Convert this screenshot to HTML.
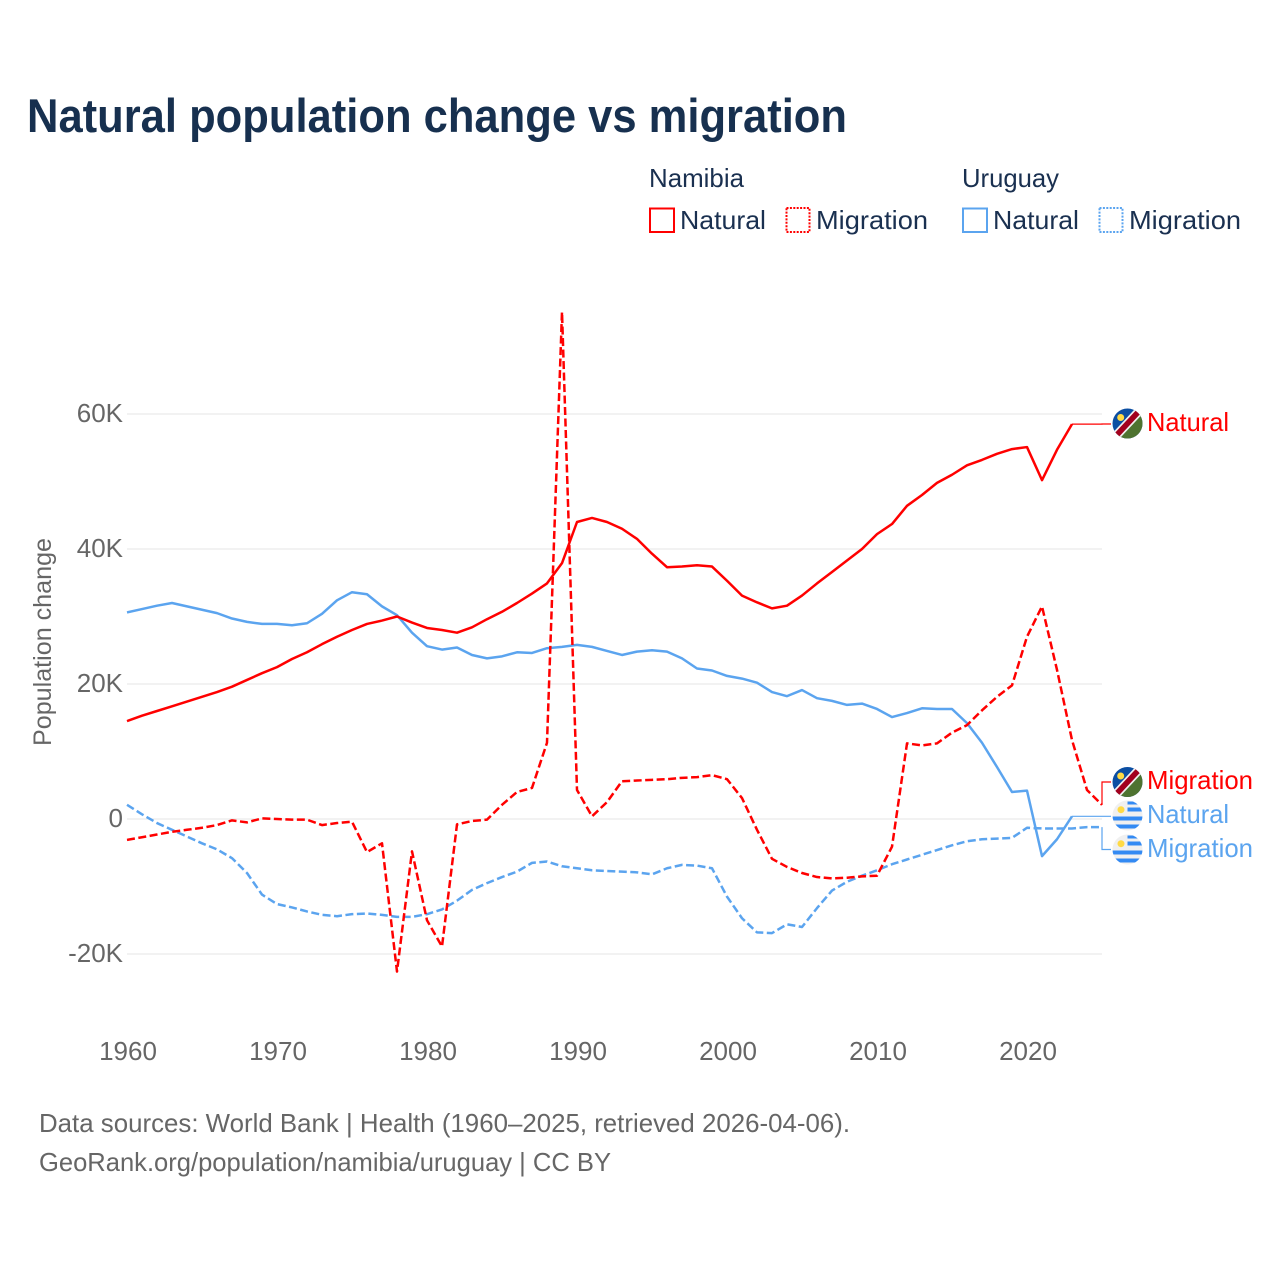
<!DOCTYPE html>
<html lang="en">
<head>
<meta charset="utf-8">
<title>Natural population change vs migration</title>
<style>
  html, body { margin: 0; padding: 0; background: #ffffff; }
  svg { display: block; font-family: "Liberation Sans", sans-serif; }
  .legend-text { font-size: 26px; fill: #1a3050; }
  .foot { font-size: 26px; fill: #666666; }
  .tick { font-size: 26px; fill: #666666; }
  .series-label { font-size: 26px; }
</style>
</head>
<body>
<svg id="chart" xmlns="http://www.w3.org/2000/svg" width="1280" height="1280" viewBox="0 0 1280 1280">
  <defs>
    <clipPath id="clip-flag-1"><circle cx="1127.5" cy="423.5" r="15"/></clipPath>
    <clipPath id="clip-flag-2"><circle cx="1127.5" cy="782" r="15"/></clipPath>
    <clipPath id="clip-flag-3"><circle cx="1127.5" cy="815.5" r="15"/></clipPath>
    <clipPath id="clip-flag-4"><circle cx="1127.5" cy="849.5" r="15"/></clipPath>
  </defs>
  <rect x="0" y="0" width="1280" height="1280" fill="#ffffff"/>

  <text x="27" y="132" font-size="47" font-weight="700" fill="#17304f" textLength="820" lengthAdjust="spacingAndGlyphs">Natural population change vs migration</text>

  <g>
    <text class="legend-text" x="649" y="187" textLength="95" lengthAdjust="spacingAndGlyphs">Namibia</text>
    <text class="legend-text" x="962" y="187" textLength="97" lengthAdjust="spacingAndGlyphs">Uruguay</text>

    <rect x="650" y="208.5" width="24" height="23.5" fill="none" stroke="#ff0000" stroke-width="2"/>
    <text class="legend-text" x="680" y="229" textLength="86" lengthAdjust="spacingAndGlyphs">Natural</text>
    <rect x="786.5" y="208" width="23" height="24" fill="none" stroke="#ff0000" stroke-width="2" stroke-dasharray="2 1.4"/>
    <text class="legend-text" x="816" y="229" textLength="112" lengthAdjust="spacingAndGlyphs">Migration</text>

    <rect x="963" y="208.5" width="24" height="23.5" fill="none" stroke="#5ba4ef" stroke-width="2"/>
    <text class="legend-text" x="993" y="229" textLength="86" lengthAdjust="spacingAndGlyphs">Natural</text>
    <rect x="1099.5" y="208" width="23" height="24" fill="none" stroke="#5ba4ef" stroke-width="2" stroke-dasharray="2 1.4"/>
    <text class="legend-text" x="1129" y="229" textLength="112" lengthAdjust="spacingAndGlyphs">Migration</text>
  </g>

  <text transform="translate(51 642) rotate(-90)" text-anchor="middle" font-size="25" fill="#666666" textLength="208" lengthAdjust="spacingAndGlyphs">Population change</text>

  <g id="grid"></g>
  <g id="y-ticks"></g>
  <g id="x-ticks"></g>
  <g id="series"></g>

  <g clip-path="url(#clip-flag-1)">
    <g transform="translate(1127.5 423.5)">
      <rect x="-16" y="-16" width="32" height="32" fill="#0b4ea2"/>
      <polygon points="-18,20 20,-20 20,20" fill="#4e7330"/>
      <g transform="rotate(-47)">
        <rect x="-24" y="-4.5" width="48" height="9" fill="#f0f0f0"/>
        <rect x="-24" y="-2.8" width="48" height="5.6" fill="#a2001d"/>
      </g>
      <circle cx="-6.8" cy="-6" r="3.5" fill="#ffda44"/>
    </g>
  </g>
  <g clip-path="url(#clip-flag-2)">
    <g transform="translate(1127.5 782)">
      <rect x="-16" y="-16" width="32" height="32" fill="#0b4ea2"/>
      <polygon points="-18,20 20,-20 20,20" fill="#4e7330"/>
      <g transform="rotate(-47)">
        <rect x="-24" y="-4.5" width="48" height="9" fill="#f0f0f0"/>
        <rect x="-24" y="-2.8" width="48" height="5.6" fill="#a2001d"/>
      </g>
      <circle cx="-6.8" cy="-6" r="3.5" fill="#ffda44"/>
    </g>
  </g>
  <g clip-path="url(#clip-flag-3)">
    <g transform="translate(1127.5 815.5)">
      <rect x="-16" y="-16" width="32" height="32" fill="#f0f0f0"/>
      <rect x="0" y="-14" width="16" height="3" fill="#338af3"/>
      <rect x="0" y="-8" width="16" height="4" fill="#338af3"/>
      <rect x="-16" y="1" width="32" height="4" fill="#338af3"/>
      <rect x="-16" y="9" width="32" height="4" fill="#338af3"/>
      <circle cx="-6.5" cy="-5.8" r="3.5" fill="#ffda44"/>
    </g>
  </g>
  <g clip-path="url(#clip-flag-4)">
    <g transform="translate(1127.5 849.5)">
      <rect x="-16" y="-16" width="32" height="32" fill="#f0f0f0"/>
      <rect x="0" y="-14" width="16" height="3" fill="#338af3"/>
      <rect x="0" y="-8" width="16" height="4" fill="#338af3"/>
      <rect x="-16" y="1" width="32" height="4" fill="#338af3"/>
      <rect x="-16" y="9" width="32" height="4" fill="#338af3"/>
      <circle cx="-6.5" cy="-5.8" r="3.5" fill="#ffda44"/>
    </g>
  </g>

  <text class="series-label" x="1147" y="431" fill="#ff0000" textLength="82" lengthAdjust="spacingAndGlyphs">Natural</text>
  <text class="series-label" x="1147" y="789" fill="#ff0000" textLength="106" lengthAdjust="spacingAndGlyphs">Migration</text>
  <text class="series-label" x="1147" y="823" fill="#5ba4ef" textLength="82" lengthAdjust="spacingAndGlyphs">Natural</text>
  <text class="series-label" x="1147" y="857" fill="#5ba4ef" textLength="106" lengthAdjust="spacingAndGlyphs">Migration</text>

  <text class="foot" x="39" y="1132" textLength="811" lengthAdjust="spacingAndGlyphs">Data sources: World Bank | Health (1960–2025, retrieved 2026-04-06).</text>
  <text class="foot" x="39" y="1171" textLength="572" lengthAdjust="spacingAndGlyphs">GeoRank.org/population/namibia/uruguay | CC BY</text>
</svg>

<script>
// Values in thousands of people per year, starting at 1960.
const startYear = 1960;
const xTickYears = [1960, 1970, 1980, 1990, 2000, 2010, 2020];
const yTickValues = [-20, 0, 20, 40, 60];
const yTickLabels = ["-20K", "0", "20K", "40K", "60K"];

const namibiaNatural = [
  14.5, 15.3, 16.0, 16.7, 17.4, 18.1, 18.8, 19.6, 20.6, 21.6,
  22.5, 23.7, 24.7, 25.9, 27.0, 28.0, 28.9, 29.4, 30.0, 29.1,
  28.3, 28.0, 27.6, 28.4, 29.6, 30.7, 32.0, 33.4, 34.9, 37.9,
  44.0, 44.6, 44.0, 43.0, 41.5, 39.3, 37.3, 37.4, 37.6, 37.4,
  35.3, 33.1, 32.1, 31.2, 31.6, 33.1, 34.9, 36.6, 38.3, 40.0,
  42.2, 43.7, 46.4, 48.0, 49.8, 51.0, 52.4, 53.2, 54.1, 54.8,
  55.1, 50.2, 54.7, 58.5
];
const namibiaMigration = [
  -3.1, -2.7, -2.3, -1.9, -1.6, -1.3, -0.9, -0.2, -0.5, 0.1,
  0.0, -0.1, -0.1, -0.9, -0.6, -0.4, -4.9, -3.6, -22.6, -4.8,
  -15.0, -18.9, -0.8, -0.3, -0.1, 2.1, 4.0, 4.6, 11.3, 75.1,
  4.3, 0.4, 2.5, 5.6, 5.7, 5.8, 5.9, 6.1, 6.2, 6.5,
  5.9, 3.1, -1.6, -5.9, -7.1, -8.0, -8.6, -8.8, -8.7, -8.5,
  -8.4, -4.1, 11.2, 10.9, 11.2, 12.8, 13.9, 16.1, 18.1, 19.8,
  27.0, 31.5, 22.1, 11.7, 4.3, 2.1
];
const uruguayNatural = [
  30.6, 31.1, 31.6, 32.0, 31.5, 31.0, 30.5, 29.7, 29.2, 28.9,
  28.9, 28.7, 29.0, 30.4, 32.4, 33.6, 33.3, 31.5, 30.2, 27.6,
  25.6, 25.1, 25.4, 24.3, 23.8, 24.1, 24.7, 24.6, 25.3, 25.5,
  25.8, 25.5, 24.9, 24.3, 24.8, 25.0, 24.8, 23.8, 22.3, 22.0,
  21.2, 20.8, 20.2, 18.8, 18.2, 19.1, 17.9, 17.5, 16.9, 17.1,
  16.3, 15.1, 15.7, 16.4, 16.3, 16.3, 14.2, 11.3, 7.7, 4.0,
  4.2, -5.5, -3.0, 0.4
];
const uruguayMigration = [
  2.1, 0.7, -0.6, -1.6, -2.6, -3.6, -4.5, -5.8, -8.0, -11.2,
  -12.6, -13.1, -13.7, -14.2, -14.4, -14.1, -14.0, -14.2, -14.5, -14.5,
  -14.1, -13.4, -12.1, -10.5, -9.5, -8.6, -7.8, -6.5, -6.3, -7.0,
  -7.3, -7.6, -7.7, -7.8, -7.9, -8.2, -7.3, -6.8, -6.9, -7.3,
  -11.5, -14.7, -16.8, -16.9, -15.6, -16.0, -13.2, -10.6, -9.3, -8.4,
  -7.6, -6.7, -6.0, -5.3, -4.6, -3.9, -3.3, -3.0, -2.9, -2.8,
  -1.3, -1.4, -1.4, -1.4, -1.2, -1.2
];

const NS = "http://www.w3.org/2000/svg";
const plotLeft = 127, plotRight = 1102, endYear = 2025;
const zeroY = 819, pxPerThousand = 6.75;

function xScale(year) {
  return plotLeft + (year - startYear) * (plotRight - plotLeft) / (endYear - startYear);
}
function yScale(value) {
  return zeroY - value * pxPerThousand;
}
function make(tag, parentId) {
  const el = document.createElementNS(NS, tag);
  document.getElementById(parentId).appendChild(el);
  return el;
}

yTickValues.forEach(function (v, i) {
  const line = make("line", "grid");
  
  
  line.setAttribute("x1", plotLeft);
  line.setAttribute("x2", plotRight);
  line.setAttribute("y1", yScale(v));
  line.setAttribute("y2", yScale(v));
  line.setAttribute("stroke", "#eeeeee");
  line.setAttribute("stroke-width", "1.5");

  const label = make("text", "y-ticks");
  
  
  label.setAttribute("class", "tick");
  label.setAttribute("x", 123);
  label.setAttribute("y", yScale(v) + 8);
  label.setAttribute("text-anchor", "end");
  label.textContent = yTickLabels[i];
});

xTickYears.forEach(function (year) {
  const label = make("text", "x-ticks");
  
  
  label.setAttribute("class", "tick");
  label.setAttribute("x", xScale(year) + 1);
  label.setAttribute("y", 1060);
  label.setAttribute("text-anchor", "middle");
  label.textContent = String(year);
});

function drawSeries(values, color, dash, name, labelY) {
  const pts = values.map(function (v, i) {
    return xScale(startYear + i).toFixed(2) + "," + yScale(v).toFixed(2);
  });
  const line = make("polyline", "series");
  
  
  line.setAttribute("points", pts.join(" "));
  line.setAttribute("fill", "none");
  line.setAttribute("stroke", color);
  line.setAttribute("stroke-width", "2.5");
  line.setAttribute("stroke-linejoin", "round");
  if (dash) {
    line.setAttribute("stroke-dasharray", dash);
  }

  const lastX = xScale(startYear + values.length - 1);
  const lastY = yScale(values[values.length - 1]);
  const connector = make("polyline", "series");
  
  
  connector.setAttribute("points",
    lastX.toFixed(2) + "," + lastY.toFixed(2) + " " +
    plotRight + "," + lastY.toFixed(2) + " " +
    plotRight + "," + labelY + " 1111," + labelY);
  connector.setAttribute("fill", "none");
  connector.setAttribute("stroke", color);
  connector.setAttribute("stroke-width", "1.2");
}

drawSeries(uruguayNatural, "#5ba4ef", null, "line-uruguay-natural", 816.3);
drawSeries(uruguayMigration, "#5ba4ef", "8 3.5", "line-uruguay-migration", 849.5);
drawSeries(namibiaNatural, "#ff0000", null, "line-namibia-natural", 424);
drawSeries(namibiaMigration, "#ff0000", "8 3.5", "line-namibia-migration", 782);
</script>
</body>
</html>
